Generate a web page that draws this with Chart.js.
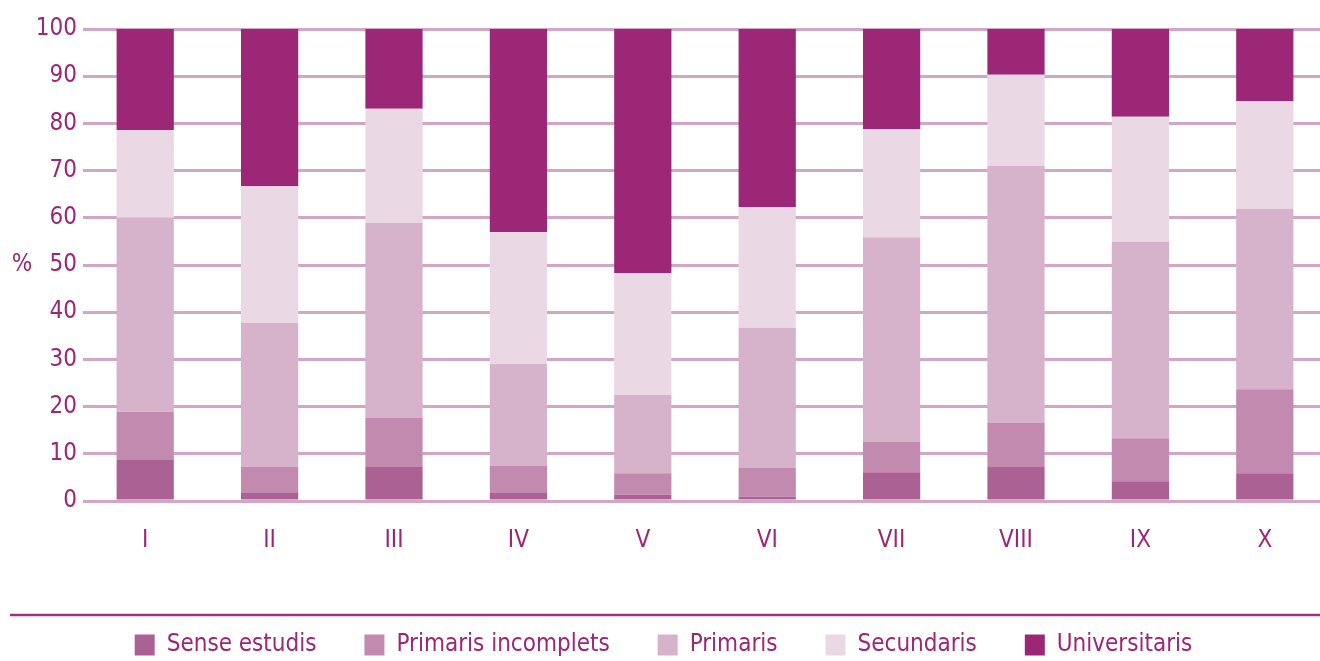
<!DOCTYPE html>
<html>
<head>
<meta charset="utf-8">
<script src="https://cdn.jsdelivr.net/npm/chart.js@4.4.1/dist/chart.umd.min.js"></script>
<style>
  html, body { margin: 0; padding: 0; background: #ffffff; overflow: hidden; }
  #wrap { position: relative; width: 1327px; height: 661px; }
</style>
</head>
<body>
<div id="wrap"><canvas id="c"></canvas></div>
<script>
const categories = ['I', 'II', 'III', 'IV', 'V', 'VI', 'VII', 'VIII', 'IX', 'X'];
const seriesNames = ['Sense estudis', 'Primaris incomplets', 'Primaris', 'Secundaris', 'Universitaris'];
const senseEstudis        = [8.7, 1.7, 7.2, 1.7, 1.3, 0.9, 6.1, 7.2, 4.2, 5.9];
const primarisIncomplets  = [10.2, 5.5, 10.4, 5.7, 4.6, 6.1, 6.4, 9.3, 9.1, 17.8];
const primaris            = [41.1, 30.5, 41.3, 21.6, 16.6, 29.7, 43.4, 54.5, 41.6, 38.2];
const secundaris          = [18.6, 29.0, 24.2, 28.0, 25.8, 25.6, 22.9, 19.3, 26.5, 22.8];
const universitaris       = [21.4, 33.3, 16.9, 43.0, 51.7, 37.7, 21.2, 9.7, 18.6, 15.3];
const yTicks = [0, 10, 20, 30, 40, 50, 60, 70, 80, 90, 100];
const yAxisLabel = '%';

const colors = ['#ac6194', '#c38aaf', '#d7b3cb', '#ead9e4', '#9b2776'];
const textColor = '#9b2776';
const FONT = '"Liberation Sans Narrow", "DejaVu Sans Condensed", "Liberation Sans", sans-serif';

const seriesData = [senseEstudis, primarisIncomplets, primaris, secundaris, universitaris];

const decor = {
  id: 'decor',
  afterDraw(chart) {
    const ctx = chart.ctx;
    const y = chart.scales.y;
    ctx.save();
    ctx.fillStyle = textColor;
    ctx.font = '24px ' + FONT;
    ctx.textAlign = 'center';
    ctx.textBaseline = 'middle';
    ctx.fillText(yAxisLabel, 22, y.getPixelForValue(50));
    // separator line above the legend
    ctx.strokeStyle = '#a0337c';
    ctx.lineWidth = 2.5;
    ctx.beginPath();
    ctx.moveTo(10, 615);
    ctx.lineTo(chart.width, 615);
    ctx.stroke();
    ctx.restore();
  }
};

new Chart(document.getElementById('c'), {
  type: 'bar',
  data: {
    labels: categories,
    datasets: seriesNames.map((name, i) => ({
      label: name,
      data: seriesData[i],
      backgroundColor: colors[i],
      borderWidth: 0,
      barPercentage: 0.46,
      categoryPercentage: 1.0
    }))
  },
  options: {
    responsive: true,
    maintainAspectRatio: false,
    animation: false,
    layout: { padding: { top: 29, right: 0, bottom: -6, left: 0 } },
    plugins: {
      legend: {
        position: 'bottom',
        labels: {
          boxWidth: 20,
          boxHeight: 21,
          padding: 48,
          color: textColor,
          font: { family: FONT, size: 24 }
        }
      },
      tooltip: { enabled: false },
      title: { display: false }
    },
    scales: {
      x: {
        stacked: true,
        grid: { display: false, drawTicks: false },
        border: { display: false },
        ticks: { color: textColor, font: { family: FONT, size: 24 }, padding: 25 },
        afterFit(scale) { scale.height = 84; }
      },
      y: {
        stacked: true,
        min: 0,
        max: 100,
        afterBuildTicks(scale) { scale.ticks = yTicks.map(v => ({ value: v })); },
        grid: { color: '#d2a6c5', lineWidth: 3, drawTicks: false },
        border: { display: false },
        ticks: { color: textColor, font: { family: FONT, size: 24 }, padding: 6 },
        afterFit(scale) { scale.width = 83; }
      }
    }
  },
  plugins: [decor]
});
</script>
</body>
</html>
